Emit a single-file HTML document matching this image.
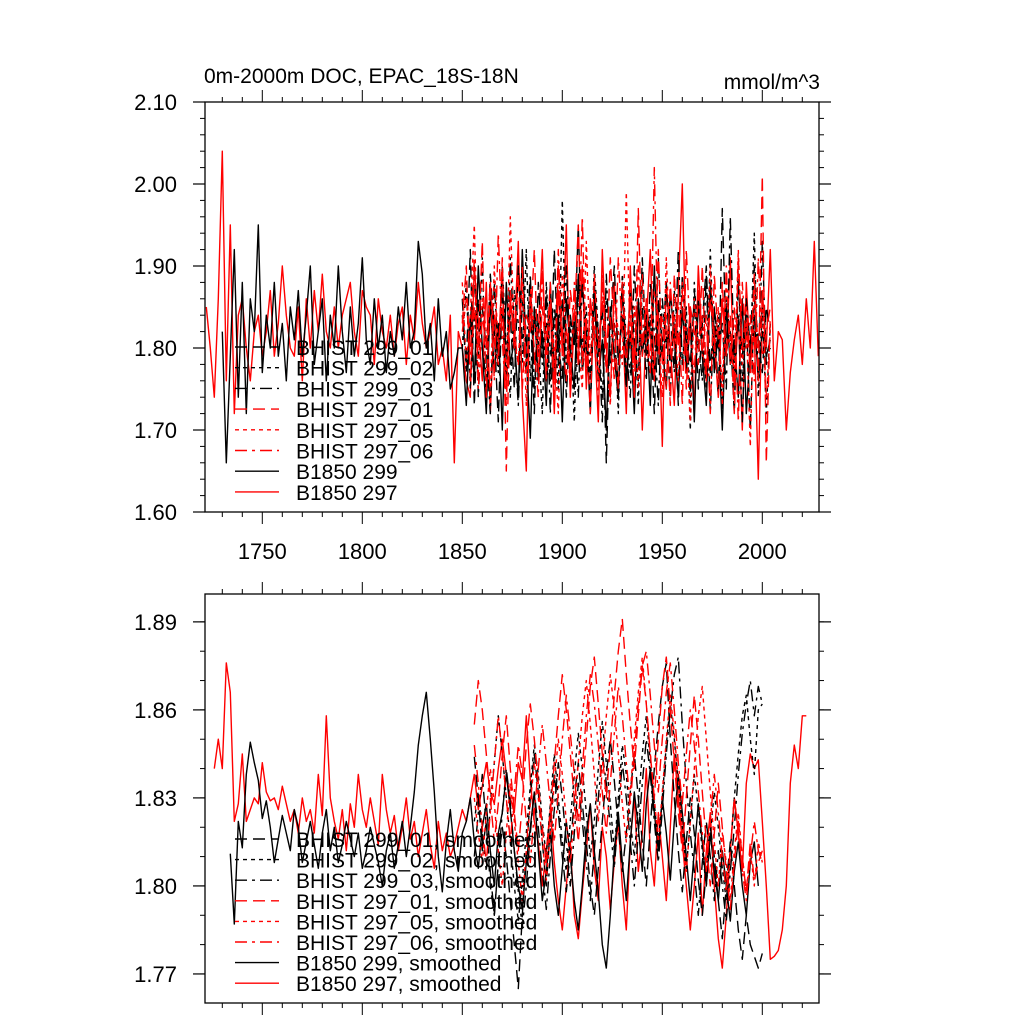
<!DOCTYPE html>
<html><head><meta charset="utf-8">
<style>
html,body{margin:0;padding:0;background:#fff;}
svg{display:block;font-family:"Liberation Sans",sans-serif;}
</style></head>
<body>
<svg id="chart" width="1024" height="1024" viewBox="0 0 1024 1024" xmlns="http://www.w3.org/2000/svg">
<defs>
<clipPath id="clipTop"><rect x="205" y="102" width="614" height="410"/></clipPath>
<clipPath id="clipBot"><rect x="205" y="594" width="614" height="409"/></clipPath>
</defs>
<text x="204" y="83" font-size="21">0m-2000m DOC, EPAC_18S-18N</text>
<text x="820" y="89" font-size="21" text-anchor="end">mmol/m^3</text>
<g id="top"></g>
<g id="bot"></g>
</svg>
<script>
// ---------- data: top panel (annual values, step 2 yr) ----------
const topYearTicks = [1750, 1800, 1850, 1900, 1950, 2000];
const topYTicks = [1.60, 1.70, 1.80, 1.90, 2.00, 2.10];
const botYTicks = [1.77, 1.80, 1.83, 1.86, 1.89];
const b297Start = 1722;
const b297 = [1.85,1.80,1.74,1.86,2.04,1.76,1.95,1.72,1.84,1.86,1.80,1.76,1.82,1.84,1.79,1.82,1.87,1.79,1.83,1.90,
1.84,1.80,1.79,1.85,1.76,1.86,1.80,1.87,1.82,1.89,1.82,1.80,1.85,1.80,1.84,1.86,1.88,1.82,1.79,1.87,
1.85,1.84,1.78,1.86,1.82,1.80,1.84,1.79,1.83,1.85,1.78,1.84,1.81,1.88,1.83,1.80,1.82,1.85,1.78,1.80,
1.76,1.84,1.66,1.82,1.80,1.76,1.74,1.90,1.83,1.76,1.88,1.72,1.84,1.79,1.90,1.75,1.86,1.81,1.93,1.74,
1.65,1.88,1.78,1.82,1.92,1.76,1.85,1.72,1.87,1.80,1.95,1.74,1.83,1.78,1.90,1.75,1.86,1.82,1.71,1.92,
1.80,1.74,1.88,1.79,1.84,1.72,1.90,1.78,1.86,1.70,1.83,1.92,1.76,1.85,1.68,1.88,1.80,1.73,1.87,2.00,
1.78,1.85,1.72,1.90,1.80,1.76,1.88,1.82,1.74,1.86,1.79,1.91,1.75,1.84,1.70,1.88,1.78,1.82,1.64,1.87,
1.80,1.92,1.76,1.82,1.81,1.70,1.77,1.81,1.84,1.78,1.86,1.80,1.93,1.79];
const b299Start = 1730;
const b299 = [1.82,1.66,1.79,1.92,1.74,1.88,1.72,1.86,1.82,1.95,1.77,1.84,1.80,1.88,1.79,1.83,1.76,1.85,1.81,1.87,
1.79,1.84,1.90,1.78,1.82,1.86,1.76,1.84,1.80,1.90,1.82,1.77,1.85,1.79,1.83,1.91,1.81,1.78,1.86,1.80,
1.84,1.77,1.82,1.79,1.85,1.81,1.88,1.80,1.82,1.93,1.89,1.80,1.83,1.76,1.86,1.79,1.82,1.75,1.77,1.80,
1.80,1.73,1.84,1.76,1.90,1.80,1.72,1.86,1.77,1.83,1.70,1.88,1.78,1.81,1.74,1.92,1.79,1.69,1.85,1.76,
1.82,1.73,1.88,1.77,1.84,1.71,1.86,1.80,1.75,1.89,1.78,1.83,1.72,1.87,1.76,1.81,1.70,1.85,1.79,1.74,
1.88,1.76,1.82,1.72,1.86,1.79,1.84,1.73,1.90,1.78,1.80,1.75,1.87,1.81,1.74,1.85,1.77,1.83,1.71,1.86,
1.79,1.73,1.88,1.77,1.82,1.70,1.85,1.78,1.81,1.74,1.86,1.72,1.80,1.84,1.76,1.82,1.79,1.81];
const histStart = 1850;
const h299_01 = [1.84,1.78,1.92,1.73,1.86,1.80,1.76,1.89,1.82,1.71,1.87,1.79,1.84,1.75,1.90,1.81,1.77,1.85,1.72,1.88,
1.80,1.83,1.76,1.92,1.78,1.86,1.74,1.84,1.80,1.95,1.77,1.82,1.73,1.88,1.79,1.85,1.66,1.83,1.90,1.78,
1.84,1.75,1.87,1.81,1.76,1.91,1.79,1.83,1.72,1.86,1.80,1.88,1.77,1.84,1.73,1.89,1.81,1.78,1.86,1.75,
1.83,1.90,1.77,1.85,1.74,1.97,1.80,1.82,1.72,1.88,1.79,1.84,1.70,1.86,1.81,1.77,1.85,1.82];
const h299_02 = [1.80,1.88,1.75,1.84,1.79,1.91,1.73,1.86,1.82,1.77,1.90,1.80,1.74,1.87,1.83,1.78,1.92,1.76,1.85,1.81,
1.72,1.88,1.79,1.84,1.75,1.98,1.78,1.83,1.71,1.87,1.80,1.85,1.76,1.90,1.82,1.74,1.86,1.79,1.83,1.72,
1.89,1.81,1.77,1.85,1.73,1.88,1.80,1.84,1.76,1.91,1.79,1.82,1.74,1.87,1.81,1.78,1.85,1.70,1.88,1.80,
1.83,1.75,1.92,1.78,1.84,1.72,1.86,1.81,1.77,1.90,1.76,1.83,1.79,1.94,1.74,1.85,1.72,1.83];
const h299_03 = [1.86,1.77,1.83,1.90,1.74,1.85,1.80,1.72,1.88,1.79,1.84,1.76,1.91,1.81,1.73,1.86,1.80,1.89,1.75,1.83,
1.78,1.87,1.72,1.85,1.81,1.76,1.90,1.79,1.84,1.74,1.88,1.80,1.77,1.86,1.82,1.71,1.89,1.78,1.83,1.75,
1.87,1.80,1.74,1.90,1.79,1.85,1.76,1.88,1.82,1.73,1.86,1.80,1.84,1.77,1.92,1.78,1.83,1.74,1.87,1.81,
1.76,1.89,1.72,1.85,1.80,1.83,1.75,1.96,1.78,1.84,1.71,1.86,1.80,1.90,1.76,1.93,1.78,1.80];
const h297_01 = [1.83,1.90,1.76,1.85,1.80,1.93,1.74,1.88,1.81,1.78,1.91,1.65,1.86,1.80,1.89,1.75,1.84,1.82,1.92,1.77,
1.85,1.79,1.88,1.73,1.90,1.81,1.76,1.87,1.83,1.95,1.78,1.84,1.72,1.89,1.80,1.86,1.77,1.91,1.82,1.75,
1.88,1.80,1.85,1.74,1.97,1.79,1.86,1.81,1.76,1.92,1.78,1.84,1.73,1.89,1.80,1.87,1.75,1.85,1.82,1.78,
1.90,1.76,1.86,1.81,1.74,1.88,1.79,1.84,1.72,1.91,1.80,1.85,1.77,1.89,1.76,2.01,1.66,1.84];
const h297_05 = [1.88,1.78,1.84,1.95,1.77,1.86,1.82,1.74,1.90,1.80,1.85,1.76,1.96,1.81,1.78,1.88,1.73,1.86,1.83,1.79,
1.91,1.76,1.85,1.80,1.72,1.89,1.82,1.77,1.87,1.81,1.75,1.93,1.79,1.84,1.76,1.88,1.80,1.73,1.86,1.82,
1.78,1.99,1.80,1.85,1.75,1.89,1.81,1.77,1.87,1.83,1.74,1.91,1.79,1.84,1.76,1.88,1.82,1.71,1.86,1.80,
1.84,1.77,1.90,1.79,1.85,1.73,1.88,1.81,1.76,1.92,1.78,1.83,1.68,1.87,1.80,1.86,1.74,1.82];
const h297_06 = [1.82,1.86,1.79,1.91,1.75,1.84,1.80,1.88,1.76,1.94,1.81,1.73,1.87,1.82,1.78,1.90,1.77,1.85,1.80,1.74,
1.89,1.81,1.86,1.76,1.92,1.79,1.83,1.75,1.88,1.80,1.96,1.77,1.85,1.81,1.73,1.89,1.80,1.84,1.76,1.91,
1.82,1.78,1.87,1.74,1.90,1.81,1.85,1.77,2.02,1.79,1.84,1.75,1.88,1.80,1.86,1.73,1.92,1.81,1.77,1.87,
1.79,1.84,1.72,1.89,1.81,1.76,1.90,1.78,1.85,1.71,1.88,1.80,1.84,1.76,1.91,1.79,1.82,1.85];
// ---------- data: bottom panel (smoothed) ----------
const s297Start = 1726;
const s297 = [1.840,1.850,1.840,1.876,1.866,1.822,1.828,1.845,1.822,1.826,1.830,1.828,1.842,1.832,1.829,1.830,1.826,1.834,1.828,1.822,
1.826,1.818,1.830,1.822,1.826,1.818,1.838,1.824,1.858,1.830,1.822,1.816,1.826,1.812,1.828,1.820,1.838,1.826,1.820,1.830,
1.822,1.814,1.838,1.826,1.818,1.824,1.812,1.820,1.830,1.816,1.822,1.810,1.818,1.826,1.814,1.806,1.822,1.812,1.818,1.810,
1.814,1.820,1.826,1.822,1.830,1.838,1.826,1.834,1.842,1.832,1.828,1.840,1.850,1.838,1.830,1.825,1.842,1.836,1.858,1.836,
1.822,1.815,1.800,1.812,1.826,1.808,1.795,1.785,1.800,1.815,1.790,1.782,1.798,1.812,1.828,1.806,1.795,1.820,1.810,1.792,
1.808,1.822,1.800,1.785,1.815,1.830,1.805,1.818,1.840,1.812,1.800,1.825,1.810,1.795,1.820,1.845,1.830,1.815,1.800,1.785,
1.800,1.818,1.790,1.812,1.825,1.800,1.782,1.772,1.790,1.812,1.830,1.818,1.805,1.835,1.845,1.840,1.843,1.822,1.800,1.775,
1.776,1.778,1.785,1.800,1.835,1.848,1.840,1.858,1.858];
const s299Start = 1734;
const s299 = [1.811,1.787,1.822,1.813,1.838,1.849,1.842,1.836,1.823,1.829,1.820,1.808,1.816,1.824,1.818,1.812,1.826,1.820,1.808,1.815,
1.822,1.814,1.806,1.818,1.826,1.812,1.820,1.808,1.814,1.822,1.816,1.810,1.818,1.806,1.812,1.820,1.814,1.808,1.800,1.812,
1.818,1.806,1.814,1.822,1.810,1.820,1.832,1.848,1.858,1.866,1.850,1.832,1.810,1.798,1.815,1.826,1.812,1.805,1.818,1.822,
1.830,1.815,1.806,1.820,1.828,1.812,1.800,1.818,1.825,1.838,1.826,1.812,1.800,1.792,1.808,1.820,1.832,1.812,1.795,1.805,
1.818,1.800,1.790,1.806,1.822,1.810,1.795,1.785,1.800,1.818,1.828,1.812,1.798,1.780,1.772,1.790,1.812,1.825,1.808,1.795,
1.815,1.832,1.820,1.805,1.828,1.840,1.825,1.812,1.830,1.818,1.802,1.822,1.838,1.825,1.810,1.795,1.812,1.828,1.815,1.800,
1.818,1.805,1.795,1.812,1.800,1.788,1.805,1.815,1.800,1.790,1.808,1.815,1.800];
const sHistStart = 1856;
const sh299_01 = [1.844,1.830,1.812,1.822,1.800,1.790,1.808,1.820,1.810,1.795,1.780,1.765,1.790,1.812,1.830,1.845,1.832,1.815,1.800,1.820,
1.838,1.825,1.810,1.798,1.812,1.830,1.842,1.828,1.815,1.800,1.790,1.806,1.822,1.838,1.850,1.836,1.820,1.805,1.818,1.832,
1.845,1.830,1.815,1.800,1.820,1.840,1.855,1.868,1.876,1.850,1.830,1.812,1.798,1.815,1.830,1.818,1.802,1.790,1.805,1.820,
1.810,1.795,1.782,1.800,1.815,1.800,1.785,1.775,1.790,1.780,1.776,1.772,1.777];
const sh299_02 = [1.822,1.832,1.818,1.805,1.828,1.842,1.858,1.845,1.830,1.815,1.800,1.788,1.802,1.818,1.834,1.848,1.838,1.822,1.810,1.828,
1.845,1.830,1.815,1.805,1.822,1.838,1.852,1.840,1.825,1.810,1.822,1.840,1.856,1.842,1.828,1.812,1.830,1.848,1.838,1.822,
1.810,1.828,1.845,1.858,1.842,1.828,1.815,1.830,1.848,1.862,1.850,1.835,1.820,1.806,1.822,1.838,1.826,1.812,1.800,1.818,
1.832,1.820,1.806,1.795,1.812,1.830,1.845,1.858,1.865,1.850,1.838,1.860,1.862];
const sh299_03 = [1.810,1.825,1.838,1.820,1.805,1.790,1.808,1.825,1.840,1.828,1.812,1.798,1.786,1.800,1.818,1.832,1.820,1.805,1.792,1.810,
1.826,1.842,1.830,1.815,1.800,1.818,1.835,1.822,1.808,1.795,1.812,1.830,1.845,1.835,1.820,1.806,1.825,1.842,1.830,1.815,
1.800,1.818,1.835,1.850,1.838,1.822,1.808,1.826,1.845,1.860,1.872,1.878,1.855,1.835,1.818,1.805,1.790,1.808,1.822,1.810,
1.795,1.812,1.800,1.788,1.805,1.820,1.838,1.852,1.862,1.870,1.858,1.868,1.862];
const sh297_01 = [1.855,1.870,1.860,1.845,1.830,1.815,1.828,1.845,1.858,1.840,1.825,1.812,1.828,1.848,1.862,1.850,1.835,1.820,1.808,1.825,
1.842,1.858,1.872,1.860,1.845,1.830,1.815,1.832,1.850,1.868,1.878,1.862,1.845,1.830,1.848,1.865,1.880,1.891,1.872,1.855,
1.840,1.858,1.875,1.862,1.845,1.830,1.850,1.868,1.878,1.860,1.842,1.825,1.812,1.830,1.848,1.865,1.850,1.832,1.815,1.800,
1.818,1.835,1.820,1.805,1.792,1.808,1.822,1.810,1.798,1.815,1.802,1.808,1.812];
const sh297_05 = [1.830,1.818,1.808,1.825,1.840,1.828,1.812,1.800,1.818,1.835,1.822,1.808,1.795,1.812,1.828,1.842,1.830,1.815,1.802,1.818,
1.835,1.850,1.838,1.822,1.808,1.825,1.842,1.858,1.870,1.855,1.838,1.822,1.840,1.858,1.872,1.860,1.845,1.828,1.815,1.832,
1.850,1.866,1.878,1.862,1.845,1.830,1.815,1.832,1.850,1.865,1.852,1.836,1.820,1.805,1.822,1.840,1.858,1.868,1.850,1.832,
1.815,1.800,1.818,1.808,1.795,1.812,1.825,1.810,1.798,1.812,1.800,1.815,1.808];
const sh297_06 = [1.848,1.835,1.820,1.808,1.825,1.842,1.858,1.845,1.830,1.815,1.832,1.848,1.838,1.822,1.808,1.825,1.840,1.855,1.842,1.828,
1.815,1.832,1.850,1.865,1.852,1.838,1.822,1.840,1.858,1.872,1.862,1.848,1.832,1.818,1.835,1.852,1.868,1.858,1.842,1.828,
1.845,1.862,1.875,1.880,1.865,1.848,1.832,1.850,1.866,1.876,1.860,1.842,1.828,1.845,1.860,1.848,1.832,1.818,1.805,1.822,
1.838,1.825,1.810,1.798,1.812,1.830,1.818,1.805,1.795,1.810,1.822,1.812,1.808];
const topLegendLabels = ["BHIST 299_01","BHIST 299_02","BHIST 299_03","BHIST 297_01","BHIST 297_05","BHIST 297_06","B1850 299","B1850 297"];
const botLegendLabels = ["BHIST 299_01, smoothed","BHIST 299_02, smoothed","BHIST 299_03, smoothed","BHIST 297_01, smoothed","BHIST 297_05, smoothed","BHIST 297_06, smoothed","B1850 299, smoothed","B1850 297, smoothed"];

// ---------- drawing ----------
const NS = "http://www.w3.org/2000/svg";
const X0 = 205, X1 = 819, YEAR0 = 1721.35, PXYR = 2.0;
function xs(year){ return X0 + (year - YEAR0) * PXYR; }
const topAx = {top:102, bot:512, vmin:1.60, vmax:2.10};
const botAx = {top:594, bot:1003, vmin:1.7601, vmax:1.8995};
function ys(ax, v){ return ax.bot - (v - ax.vmin) / (ax.vmax - ax.vmin) * (ax.bot - ax.top); }
function mk(tag, attrs, parent){ const e = document.createElementNS(NS, tag); for (const k in attrs) e.setAttribute(k, attrs[k]); parent.appendChild(e); return e; }

const styles = [
  {c:"#000", d:"12 6"}, {c:"#000", d:"4 4"}, {c:"#000", d:"12 5 3 5"},
  {c:"#f00", d:"12 6"}, {c:"#f00", d:"4 4"}, {c:"#f00", d:"12 5 3 5"},
  {c:"#000", d:""}, {c:"#f00", d:""}
];

function drawSeries(g, ax, clip, start, step, vals, st, name){
  const pts = vals.map((v,i)=> xs(start + i*step).toFixed(1) + "," + ys(ax, v).toFixed(1)).join(" ");
  const p = mk("polyline", {points:pts, fill:"none", stroke:st.c, "stroke-width":"1.4", "clip-path":"url(#"+clip+")", "stroke-linejoin":"round"}, g);
  if (st.d) p.setAttribute("stroke-dasharray", st.d);
  
  
}

function drawAxes(g, ax, yticks, yminor, decimals, showXLabels){
  const fr = mk("rect", {x:X0, y:ax.top, width:X1-X0, height:ax.bot-ax.top, fill:"none", stroke:"#000", "stroke-width":"1.3"}, g);
  
  
  for (let yr = 1730; yr <= 2020; yr += 10){
    const x = xs(yr); const major = (yr % 50 === 0); const L = major ? 12 : 5;
    const t1 = mk("line", {x1:x, x2:x, y1:ax.top, y2:ax.top-L, stroke:"#000", "stroke-width":"1"}, g);
    
    
    const t2 = mk("line", {x1:x, x2:x, y1:ax.bot, y2:ax.bot+L, stroke:"#000", "stroke-width":"1"}, g);
    
    
  }
  if (showXLabels){
    topYearTicks.forEach(yr => {
      const t = mk("text", {x:xs(yr), y:ax.bot+47, "font-size":"22", "text-anchor":"middle"}, g);
      t.textContent = String(yr);
      
      
    });
  }
  for (let v = ax.vmin; v <= ax.vmax + 1e-9; v += yminor){
    const vv = Math.round(v / yminor) * yminor;
    if (vv < ax.vmin - 1e-9 || vv > ax.vmax + 1e-9) continue;
    const y = ys(ax, vv);
    const a = mk("line", {x1:X0, x2:X0-5, y1:y, y2:y, stroke:"#000", "stroke-width":"1"}, g);
    
    
    const b = mk("line", {x1:X1, x2:X1+5, y1:y, y2:y, stroke:"#000", "stroke-width":"1"}, g);
    
    
  }
  yticks.forEach(v => {
    const y = ys(ax, v);
    const a = mk("line", {x1:X0, x2:X0-12, y1:y, y2:y, stroke:"#000", "stroke-width":"1.2"}, g);
    
    
    const b = mk("line", {x1:X1, x2:X1+12, y1:y, y2:y, stroke:"#000", "stroke-width":"1.2"}, g);
    
    
    const t = mk("text", {x:177, y:y+8, "font-size":"22", "text-anchor":"end"}, g);
    t.textContent = v.toFixed(decimals);
    
    
  });
}

function drawLegend(g, labels, y0, dy){
  labels.forEach((lab, i) => {
    const y = y0 + i*dy; const st = styles[i];
    const ln = mk("line", {x1:235, x2:279, y1:y, y2:y, stroke:st.c, "stroke-width":"1.4"}, g);
    if (st.d) ln.setAttribute("stroke-dasharray", st.d);
    
    
    const t = mk("text", {x:296, y:y+8, "font-size":"21"}, g);
    t.textContent = lab;
    
    
  });
}

const gt = document.getElementById("top");
drawSeries(gt, topAx, "clipTop", b297Start, 2, b297, styles[7], "b1850-297-line");
drawSeries(gt, topAx, "clipTop", b299Start, 2, b299, styles[6], "b1850-299-line");
[h299_01,h299_02,h299_03,h297_01,h297_05,h297_06].forEach((arr,i)=>{
  drawSeries(gt, topAx, "clipTop", histStart, 2, arr, styles[i], "bhist-line-"+(i+1));
});
drawAxes(gt, topAx, topYTicks, 0.02, 2, true);
drawLegend(gt, topLegendLabels, 347, 20.7);

const gb = document.getElementById("bot");
drawSeries(gb, botAx, "clipBot", s297Start, 2, s297, styles[7], "b1850-297-smoothed-line");
drawSeries(gb, botAx, "clipBot", s299Start, 2, s299, styles[6], "b1850-299-smoothed-line");
[sh299_01,sh299_02,sh299_03,sh297_01,sh297_05,sh297_06].forEach((arr,i)=>{
  drawSeries(gb, botAx, "clipBot", sHistStart, 2, arr, styles[i], "bhist-smoothed-line-"+(i+1));
});
drawAxes(gb, botAx, botYTicks, 0.01, 2, false);
drawLegend(gb, botLegendLabels, 839, 20.6);
</script>
</body></html>
